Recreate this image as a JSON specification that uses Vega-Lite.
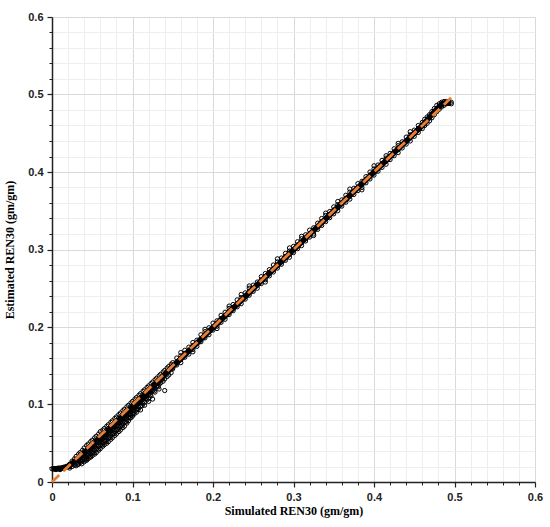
{
  "$schema": "https://vega.github.io/schema/vega-lite/v6.json",
  "width": 483,
  "height": 465,
  "autosize": {"type": "none"},
  "padding": {"left": 52, "top": 17, "right": 15, "bottom": 45},
  "background": "white",
  "config": {"view": {"stroke": null}},
  "datasets": {
    "pts": [
      {"sim":0.000,"est":0.017},{"sim":0.002,"est":0.017},{"sim":0.004,"est":0.017},{"sim":0.006,"est":0.0175},{"sim":0.008,"est":0.018},{"sim":0.010,"est":0.018},{"sim":0.012,"est":0.018},{"sim":0.014,"est":0.019},{"sim":0.016,"est":0.019},{"sim":0.018,"est":0.020},{"sim":0.020,"est":0.021},{"sim":0.005,"est":0.016},{"sim":0.010,"est":0.016},{"sim":0.015,"est":0.017},
      {"sim":0.022,"est":0.023},{"sim":0.022,"est":0.020},{"sim":0.022,"est":0.018},
      {"sim":0.025,"est":0.027},{"sim":0.025,"est":0.023},{"sim":0.025,"est":0.020},
      {"sim":0.028,"est":0.030},{"sim":0.028,"est":0.026},{"sim":0.028,"est":0.022},
      {"sim":0.030,"est":0.033},{"sim":0.030,"est":0.028},{"sim":0.030,"est":0.024},{"sim":0.030,"est":0.021},
      {"sim":0.033,"est":0.036},{"sim":0.033,"est":0.031},{"sim":0.033,"est":0.027},{"sim":0.033,"est":0.023},
      {"sim":0.035,"est":0.038},{"sim":0.035,"est":0.034},{"sim":0.035,"est":0.029},{"sim":0.035,"est":0.025},
      {"sim":0.038,"est":0.041},{"sim":0.038,"est":0.036},{"sim":0.038,"est":0.031},{"sim":0.038,"est":0.027},
      {"sim":0.040,"est":0.044},{"sim":0.040,"est":0.039},{"sim":0.040,"est":0.034},{"sim":0.040,"est":0.029},{"sim":0.040,"est":0.026},
      {"sim":0.043,"est":0.047},{"sim":0.043,"est":0.041},{"sim":0.043,"est":0.036},{"sim":0.043,"est":0.031},{"sim":0.043,"est":0.028},
      {"sim":0.045,"est":0.049},{"sim":0.045,"est":0.044},{"sim":0.045,"est":0.039},{"sim":0.045,"est":0.034},{"sim":0.045,"est":0.030},
      {"sim":0.048,"est":0.052},{"sim":0.048,"est":0.047},{"sim":0.048,"est":0.041},{"sim":0.048,"est":0.036},{"sim":0.048,"est":0.032},
      {"sim":0.050,"est":0.054},{"sim":0.050,"est":0.049},{"sim":0.050,"est":0.044},{"sim":0.050,"est":0.038},{"sim":0.050,"est":0.034},
      {"sim":0.053,"est":0.057},{"sim":0.053,"est":0.052},{"sim":0.053,"est":0.046},{"sim":0.053,"est":0.041},{"sim":0.053,"est":0.036},
      {"sim":0.055,"est":0.059},{"sim":0.055,"est":0.054},{"sim":0.055,"est":0.048},{"sim":0.055,"est":0.043},{"sim":0.055,"est":0.038},
      {"sim":0.058,"est":0.062},{"sim":0.058,"est":0.057},{"sim":0.058,"est":0.051},{"sim":0.058,"est":0.046},{"sim":0.058,"est":0.041},
      {"sim":0.060,"est":0.065},{"sim":0.060,"est":0.059},{"sim":0.060,"est":0.053},{"sim":0.060,"est":0.048},{"sim":0.060,"est":0.043},
      {"sim":0.063,"est":0.067},{"sim":0.063,"est":0.062},{"sim":0.063,"est":0.056},{"sim":0.063,"est":0.050},{"sim":0.063,"est":0.046},
      {"sim":0.065,"est":0.069},{"sim":0.065,"est":0.064},{"sim":0.065,"est":0.058},{"sim":0.065,"est":0.053},{"sim":0.065,"est":0.048},
      {"sim":0.068,"est":0.072},{"sim":0.068,"est":0.067},{"sim":0.068,"est":0.061},{"sim":0.068,"est":0.055},{"sim":0.068,"est":0.050},
      {"sim":0.070,"est":0.074},{"sim":0.070,"est":0.069},{"sim":0.070,"est":0.063},{"sim":0.070,"est":0.057},{"sim":0.070,"est":0.052},
      {"sim":0.073,"est":0.077},{"sim":0.073,"est":0.072},{"sim":0.073,"est":0.066},{"sim":0.073,"est":0.060},{"sim":0.073,"est":0.055},
      {"sim":0.075,"est":0.079},{"sim":0.075,"est":0.074},{"sim":0.075,"est":0.068},{"sim":0.075,"est":0.062},{"sim":0.075,"est":0.057},
      {"sim":0.078,"est":0.082},{"sim":0.078,"est":0.077},{"sim":0.078,"est":0.071},{"sim":0.078,"est":0.065},{"sim":0.078,"est":0.060},
      {"sim":0.080,"est":0.084},{"sim":0.080,"est":0.079},{"sim":0.080,"est":0.073},{"sim":0.080,"est":0.067},{"sim":0.080,"est":0.062},
      {"sim":0.083,"est":0.087},{"sim":0.083,"est":0.082},{"sim":0.083,"est":0.076},{"sim":0.083,"est":0.070},{"sim":0.083,"est":0.065},
      {"sim":0.085,"est":0.089},{"sim":0.085,"est":0.084},{"sim":0.085,"est":0.078},{"sim":0.085,"est":0.072},{"sim":0.085,"est":0.067},
      {"sim":0.088,"est":0.092},{"sim":0.088,"est":0.087},{"sim":0.088,"est":0.081},{"sim":0.088,"est":0.075},{"sim":0.088,"est":0.070},
      {"sim":0.090,"est":0.094},{"sim":0.090,"est":0.089},{"sim":0.090,"est":0.083},{"sim":0.090,"est":0.077},{"sim":0.090,"est":0.072},
      {"sim":0.093,"est":0.097},{"sim":0.093,"est":0.092},{"sim":0.093,"est":0.086},{"sim":0.093,"est":0.080},{"sim":0.093,"est":0.076},
      {"sim":0.095,"est":0.099},{"sim":0.095,"est":0.094},{"sim":0.095,"est":0.088},{"sim":0.095,"est":0.083},{"sim":0.095,"est":0.079},
      {"sim":0.098,"est":0.102},{"sim":0.098,"est":0.097},{"sim":0.098,"est":0.091},{"sim":0.098,"est":0.086},{"sim":0.098,"est":0.083},
      {"sim":0.100,"est":0.104},{"sim":0.100,"est":0.099},{"sim":0.100,"est":0.094},{"sim":0.100,"est":0.088},{"sim":0.100,"est":0.085},
      {"sim":0.103,"est":0.107},{"sim":0.103,"est":0.102},{"sim":0.103,"est":0.097},{"sim":0.103,"est":0.091},
      {"sim":0.105,"est":0.109},{"sim":0.105,"est":0.104},{"sim":0.105,"est":0.099},{"sim":0.105,"est":0.093},{"sim":0.105,"est":0.090},
      {"sim":0.108,"est":0.112},{"sim":0.108,"est":0.107},{"sim":0.108,"est":0.102},{"sim":0.108,"est":0.096},
      {"sim":0.110,"est":0.114},{"sim":0.110,"est":0.109},{"sim":0.110,"est":0.104},{"sim":0.110,"est":0.098},{"sim":0.110,"est":0.093},
      {"sim":0.113,"est":0.117},{"sim":0.113,"est":0.112},{"sim":0.113,"est":0.107},{"sim":0.113,"est":0.101},
      {"sim":0.115,"est":0.119},{"sim":0.115,"est":0.114},{"sim":0.115,"est":0.109},{"sim":0.115,"est":0.103},{"sim":0.115,"est":0.099},
      {"sim":0.118,"est":0.122},{"sim":0.118,"est":0.117},{"sim":0.118,"est":0.111},{"sim":0.118,"est":0.106},
      {"sim":0.120,"est":0.124},{"sim":0.120,"est":0.119},{"sim":0.120,"est":0.113},{"sim":0.120,"est":0.108},{"sim":0.120,"est":0.104},
      {"sim":0.123,"est":0.127},{"sim":0.123,"est":0.122},{"sim":0.123,"est":0.116},{"sim":0.123,"est":0.111},
      {"sim":0.125,"est":0.129},{"sim":0.125,"est":0.124},{"sim":0.125,"est":0.118},{"sim":0.125,"est":0.107},
      {"sim":0.128,"est":0.132},{"sim":0.128,"est":0.127},{"sim":0.128,"est":0.121},{"sim":0.128,"est":0.116},
      {"sim":0.130,"est":0.134},{"sim":0.130,"est":0.129},{"sim":0.130,"est":0.123},
      {"sim":0.133,"est":0.137},{"sim":0.133,"est":0.132},{"sim":0.133,"est":0.126},{"sim":0.133,"est":0.120},
      {"sim":0.135,"est":0.139},{"sim":0.135,"est":0.134},{"sim":0.135,"est":0.128},
      {"sim":0.138,"est":0.142},{"sim":0.138,"est":0.137},{"sim":0.138,"est":0.130},
      {"sim":0.140,"est":0.144},{"sim":0.140,"est":0.139},{"sim":0.140,"est":0.133},{"sim":0.140,"est":0.118},
      {"sim":0.143,"est":0.147},{"sim":0.143,"est":0.142},{"sim":0.143,"est":0.136},
      {"sim":0.145,"est":0.149},{"sim":0.145,"est":0.144},{"sim":0.145,"est":0.138},
      {"sim":0.148,"est":0.152},{"sim":0.148,"est":0.147},{"sim":0.148,"est":0.141},
      {"sim":0.032,"est":0.0275},{"sim":0.032,"est":0.0225},
      {"sim":0.037,"est":0.0325},{"sim":0.037,"est":0.0275},{"sim":0.037,"est":0.0235},
      {"sim":0.042,"est":0.0375},{"sim":0.042,"est":0.0325},{"sim":0.042,"est":0.0285},
      {"sim":0.047,"est":0.0425},{"sim":0.047,"est":0.0375},{"sim":0.047,"est":0.0325},
      {"sim":0.052,"est":0.0475},{"sim":0.052,"est":0.0425},{"sim":0.052,"est":0.0375},
      {"sim":0.057,"est":0.0525},{"sim":0.057,"est":0.0475},{"sim":0.057,"est":0.0425},
      {"sim":0.062,"est":0.0575},{"sim":0.062,"est":0.0525},{"sim":0.062,"est":0.0475},
      {"sim":0.067,"est":0.0625},{"sim":0.067,"est":0.0575},{"sim":0.067,"est":0.0525},
      {"sim":0.072,"est":0.0675},{"sim":0.072,"est":0.0625},{"sim":0.072,"est":0.0575},
      {"sim":0.077,"est":0.0725},{"sim":0.077,"est":0.0675},{"sim":0.077,"est":0.0625},
      {"sim":0.082,"est":0.0775},{"sim":0.082,"est":0.0725},{"sim":0.082,"est":0.0675},
      {"sim":0.087,"est":0.0825},{"sim":0.087,"est":0.0775},{"sim":0.087,"est":0.0725},
      {"sim":0.092,"est":0.0875},{"sim":0.092,"est":0.0825},{"sim":0.092,"est":0.0775},
      {"sim":0.097,"est":0.0925},{"sim":0.097,"est":0.0875},{"sim":0.097,"est":0.0825},
      {"sim":0.102,"est":0.0975},{"sim":0.102,"est":0.0925},{"sim":0.102,"est":0.0875},
      {"sim":0.107,"est":0.1025},{"sim":0.107,"est":0.0975},{"sim":0.107,"est":0.0935},
      {"sim":0.112,"est":0.1075},{"sim":0.112,"est":0.1025},{"sim":0.112,"est":0.0985},
      {"sim":0.117,"est":0.1125},{"sim":0.117,"est":0.1075},
      {"sim":0.122,"est":0.1175},{"sim":0.122,"est":0.1125},
      {"sim":0.127,"est":0.1225},{"sim":0.127,"est":0.1175},
      {"sim":0.132,"est":0.1275},{"sim":0.132,"est":0.123},
      {"sim":0.137,"est":0.1325},
      {"sim":0.150,"est":0.154},{"sim":0.150,"est":0.150},{"sim":0.150,"est":0.146},
      {"sim":0.155,"est":0.160},{"sim":0.155,"est":0.155},{"sim":0.155,"est":0.151},
      {"sim":0.160,"est":0.163},{"sim":0.160,"est":0.158},{"sim":0.160,"est":0.154},{"sim":0.160,"est":0.167},
      {"sim":0.165,"est":0.170},{"sim":0.165,"est":0.166},{"sim":0.165,"est":0.161},
      {"sim":0.170,"est":0.174},{"sim":0.170,"est":0.169},{"sim":0.170,"est":0.165},
      {"sim":0.175,"est":0.180},{"sim":0.175,"est":0.176},{"sim":0.175,"est":0.171},{"sim":0.175,"est":0.168},
      {"sim":0.180,"est":0.183},{"sim":0.180,"est":0.179},{"sim":0.180,"est":0.175},
      {"sim":0.185,"est":0.190},{"sim":0.185,"est":0.185},{"sim":0.185,"est":0.181},
      {"sim":0.190,"est":0.194},{"sim":0.190,"est":0.189},{"sim":0.190,"est":0.186},{"sim":0.190,"est":0.197},
      {"sim":0.195,"est":0.199},{"sim":0.195,"est":0.195},{"sim":0.195,"est":0.190},
      {"sim":0.200,"est":0.205},{"sim":0.200,"est":0.200},{"sim":0.200,"est":0.196},
      {"sim":0.205,"est":0.208},{"sim":0.205,"est":0.204},{"sim":0.205,"est":0.201},{"sim":0.205,"est":0.198},
      {"sim":0.210,"est":0.215},{"sim":0.210,"est":0.211},{"sim":0.210,"est":0.206},
      {"sim":0.215,"est":0.219},{"sim":0.215,"est":0.214},{"sim":0.215,"est":0.210},
      {"sim":0.220,"est":0.224},{"sim":0.220,"est":0.220},{"sim":0.220,"est":0.216},{"sim":0.220,"est":0.227},
      {"sim":0.225,"est":0.229},{"sim":0.225,"est":0.225},{"sim":0.225,"est":0.221},
      {"sim":0.230,"est":0.235},{"sim":0.230,"est":0.230},{"sim":0.230,"est":0.226},
      {"sim":0.235,"est":0.238},{"sim":0.235,"est":0.234},{"sim":0.235,"est":0.230},{"sim":0.235,"est":0.242},
      {"sim":0.240,"est":0.244},{"sim":0.240,"est":0.240},{"sim":0.240,"est":0.236},
      {"sim":0.245,"est":0.250},{"sim":0.245,"est":0.246},{"sim":0.245,"est":0.241},{"sim":0.245,"est":0.253},
      {"sim":0.250,"est":0.254},{"sim":0.250,"est":0.250},{"sim":0.250,"est":0.246},
      {"sim":0.255,"est":0.258},{"sim":0.255,"est":0.254},{"sim":0.255,"est":0.250},
      {"sim":0.260,"est":0.265},{"sim":0.260,"est":0.261},{"sim":0.260,"est":0.256},
      {"sim":0.265,"est":0.269},{"sim":0.265,"est":0.265},{"sim":0.265,"est":0.261},{"sim":0.265,"est":0.258},
      {"sim":0.270,"est":0.274},{"sim":0.270,"est":0.270},{"sim":0.270,"est":0.266},
      {"sim":0.275,"est":0.280},{"sim":0.275,"est":0.275},{"sim":0.275,"est":0.271},
      {"sim":0.280,"est":0.284},{"sim":0.280,"est":0.280},{"sim":0.280,"est":0.276},{"sim":0.280,"est":0.288},
      {"sim":0.285,"est":0.289},{"sim":0.285,"est":0.285},{"sim":0.285,"est":0.281},
      {"sim":0.290,"est":0.295},{"sim":0.290,"est":0.291},{"sim":0.290,"est":0.286},
      {"sim":0.295,"est":0.298},{"sim":0.295,"est":0.294},{"sim":0.295,"est":0.290},{"sim":0.295,"est":0.302},
      {"sim":0.300,"est":0.304},{"sim":0.300,"est":0.300},{"sim":0.300,"est":0.296},
      {"sim":0.305,"est":0.310},{"sim":0.305,"est":0.306},{"sim":0.305,"est":0.301},
      {"sim":0.310,"est":0.314},{"sim":0.310,"est":0.309},{"sim":0.310,"est":0.305},{"sim":0.310,"est":0.317},
      {"sim":0.315,"est":0.319},{"sim":0.315,"est":0.315},{"sim":0.315,"est":0.311},
      {"sim":0.320,"est":0.325},{"sim":0.320,"est":0.320},{"sim":0.320,"est":0.316},
      {"sim":0.325,"est":0.328},{"sim":0.325,"est":0.324},{"sim":0.325,"est":0.320},{"sim":0.325,"est":0.318},
      {"sim":0.330,"est":0.334},{"sim":0.330,"est":0.330},{"sim":0.330,"est":0.326},
      {"sim":0.335,"est":0.340},{"sim":0.335,"est":0.336},{"sim":0.335,"est":0.331},
      {"sim":0.340,"est":0.344},{"sim":0.340,"est":0.340},{"sim":0.340,"est":0.336},{"sim":0.340,"est":0.347},
      {"sim":0.345,"est":0.349},{"sim":0.345,"est":0.345},{"sim":0.345,"est":0.341},
      {"sim":0.350,"est":0.355},{"sim":0.350,"est":0.351},{"sim":0.350,"est":0.346},
      {"sim":0.355,"est":0.358},{"sim":0.355,"est":0.354},{"sim":0.355,"est":0.350},{"sim":0.355,"est":0.362},
      {"sim":0.360,"est":0.364},{"sim":0.360,"est":0.360},{"sim":0.360,"est":0.356},
      {"sim":0.365,"est":0.370},{"sim":0.365,"est":0.366},{"sim":0.365,"est":0.361},
      {"sim":0.370,"est":0.374},{"sim":0.370,"est":0.369},{"sim":0.370,"est":0.365},{"sim":0.370,"est":0.378},
      {"sim":0.375,"est":0.379},{"sim":0.375,"est":0.375},{"sim":0.375,"est":0.371},
      {"sim":0.380,"est":0.385},{"sim":0.380,"est":0.380},{"sim":0.380,"est":0.376},
      {"sim":0.385,"est":0.388},{"sim":0.385,"est":0.384},{"sim":0.385,"est":0.380},{"sim":0.385,"est":0.377},
      {"sim":0.390,"est":0.394},{"sim":0.390,"est":0.390},{"sim":0.390,"est":0.386},
      {"sim":0.395,"est":0.400},{"sim":0.395,"est":0.396},{"sim":0.395,"est":0.391},
      {"sim":0.400,"est":0.404},{"sim":0.400,"est":0.400},{"sim":0.400,"est":0.396},{"sim":0.400,"est":0.408},
      {"sim":0.405,"est":0.409},{"sim":0.405,"est":0.405},{"sim":0.405,"est":0.401},
      {"sim":0.410,"est":0.415},{"sim":0.410,"est":0.411},{"sim":0.410,"est":0.406},
      {"sim":0.415,"est":0.418},{"sim":0.415,"est":0.414},{"sim":0.415,"est":0.410},{"sim":0.415,"est":0.421},
      {"sim":0.420,"est":0.424},{"sim":0.420,"est":0.420},{"sim":0.420,"est":0.416},
      {"sim":0.425,"est":0.430},{"sim":0.425,"est":0.426},{"sim":0.425,"est":0.421},
      {"sim":0.430,"est":0.434},{"sim":0.430,"est":0.429},{"sim":0.430,"est":0.425},{"sim":0.430,"est":0.437},
      {"sim":0.435,"est":0.439},{"sim":0.435,"est":0.435},{"sim":0.435,"est":0.431},
      {"sim":0.440,"est":0.445},{"sim":0.440,"est":0.440},{"sim":0.440,"est":0.436},
      {"sim":0.445,"est":0.448},{"sim":0.445,"est":0.444},{"sim":0.445,"est":0.440},{"sim":0.445,"est":0.452},
      {"sim":0.450,"est":0.454},{"sim":0.450,"est":0.450},{"sim":0.450,"est":0.446},
      {"sim":0.455,"est":0.460},{"sim":0.455,"est":0.456},{"sim":0.455,"est":0.451},
      {"sim":0.460,"est":0.464},{"sim":0.460,"est":0.460},{"sim":0.460,"est":0.456},
      {"sim":0.463,"est":0.468},{"sim":0.463,"est":0.463},{"sim":0.463,"est":0.460},
      {"sim":0.466,"est":0.471},{"sim":0.466,"est":0.467},{"sim":0.466,"est":0.463},
      {"sim":0.469,"est":0.474},{"sim":0.469,"est":0.470},{"sim":0.469,"est":0.466},
      {"sim":0.472,"est":0.478},{"sim":0.472,"est":0.474},{"sim":0.472,"est":0.470},
      {"sim":0.475,"est":0.482},{"sim":0.475,"est":0.478},{"sim":0.475,"est":0.474},
      {"sim":0.478,"est":0.486},{"sim":0.478,"est":0.482},{"sim":0.478,"est":0.478},
      {"sim":0.481,"est":0.488},{"sim":0.481,"est":0.485},{"sim":0.481,"est":0.481},
      {"sim":0.484,"est":0.490},{"sim":0.484,"est":0.488},{"sim":0.484,"est":0.484},
      {"sim":0.487,"est":0.491},{"sim":0.487,"est":0.489},{"sim":0.487,"est":0.486},
      {"sim":0.490,"est":0.491},{"sim":0.490,"est":0.489},
      {"sim":0.493,"est":0.491},{"sim":0.493,"est":0.489},
      {"sim":0.496,"est":0.490},{"sim":0.496,"est":0.488}
    ],
    "core": [
      {"sim":0.000,"est":0.017},{"sim":0.010,"est":0.017},{"sim":0.020,"est":0.020},{"sim":0.030,"est":0.028},{"sim":0.060,"est":0.056},{"sim":0.100,"est":0.096},{"sim":0.150,"est":0.149},{"sim":0.460,"est":0.460},{"sim":0.475,"est":0.478},{"sim":0.485,"est":0.488},{"sim":0.495,"est":0.489}
    ],
    "ref": [{"sim": 0, "est": 0}, {"sim": 0.5, "est": 0.5}]
  },
  "layer": [
    {
      "data": {"name": "ref"},
      "mark": {"type": "line", "opacity": 0},
      "encoding": {
        "x": {"field": "sim", "type": "quantitative", "scale": {"domain": [0, 0.6], "nice": false, "zero": false},
          "axis": {"orient": "bottom", "values": [0.02,0.04,0.06,0.08,0.12,0.14,0.16,0.18,0.22,0.24,0.26,0.28,0.32,0.34,0.36,0.38,0.42,0.44,0.46,0.48,0.52,0.54,0.56,0.58],
            "labels": false, "domain": false, "title": null, "tickSize": 3, "tickColor": "#222", "tickWidth": 1,
            "grid": true, "gridColor": "#eeeeee", "gridWidth": 1, "maxExtent": 0, "minExtent": 0}},
        "y": {"field": "est", "type": "quantitative", "scale": {"domain": [0, 0.6], "nice": false, "zero": false},
          "axis": {"orient": "left", "values": [0.02,0.04,0.06,0.08,0.12,0.14,0.16,0.18,0.22,0.24,0.26,0.28,0.32,0.34,0.36,0.38,0.42,0.44,0.46,0.48,0.52,0.54,0.56,0.58],
            "labels": false, "domain": false, "title": null, "tickSize": 3, "tickColor": "#222", "tickWidth": 1,
            "grid": true, "gridColor": "#eeeeee", "gridWidth": 1, "maxExtent": 0, "minExtent": 0}}
      }
    },
    {
      "data": {"name": "core"},
      "mark": {"type": "line", "color": "#000000", "strokeWidth": 5.5},
      "encoding": {
        "x": {"field": "sim", "type": "quantitative",
          "axis": {"orient": "bottom", "values": [0, 0.1, 0.2, 0.3, 0.4, 0.5, 0.6], "labelFlush": false,
            "labelExpr": "datum.value == 0 ? '0' : format(datum.value, '.1f')",
            "labelFont": "Liberation Sans", "labelFontWeight": "bold", "labelFontSize": 11, "labelColor": "#222", "labelPadding": 4,
            "domainColor": "#222", "domainWidth": 1.5, "tickColor": "#222", "tickSize": 5, "tickWidth": 1.2,
            "grid": true, "gridColor": "#d9d9d9", "gridWidth": 1,
            "title": "Simulated REN30 (gm/gm)", "titleFont": "Liberation Serif", "titleFontWeight": "bold", "titleFontSize": 12, "titleColor": "#000", "titlePadding": 3}},
        "y": {"field": "est", "type": "quantitative",
          "axis": {"orient": "left", "values": [0, 0.1, 0.2, 0.3, 0.4, 0.5, 0.6], "labelFlush": false,
            "labelExpr": "datum.value == 0 ? '0' : format(datum.value, '.1f')",
            "labelFont": "Liberation Sans", "labelFontWeight": "bold", "labelFontSize": 11, "labelColor": "#222", "labelPadding": 4,
            "domainColor": "#222", "domainWidth": 1.5, "tickColor": "#222", "tickSize": 5, "tickWidth": 1.2,
            "grid": true, "gridColor": "#d9d9d9", "gridWidth": 1,
            "title": "Estimated REN30 (gm/gm)", "titleFont": "Liberation Serif", "titleFontWeight": "bold", "titleFontSize": 12, "titleColor": "#000", "titlePadding": 11}}
      }
    },
    {
      "data": {"name": "pts"},
      "mark": {"type": "point", "shape": "circle", "filled": false, "size": 18, "stroke": "#000000", "strokeWidth": 1, "opacity": 1},
      "encoding": {
        "x": {"field": "sim", "type": "quantitative", "axis": null},
        "y": {"field": "est", "type": "quantitative", "axis": null}
      }
    },
    {
      "data": {"name": "ref"},
      "mark": {"type": "line", "color": "#ED7D31", "strokeWidth": 2.8, "strokeDash": [10, 6]},
      "encoding": {
        "x": {"field": "sim", "type": "quantitative", "axis": null},
        "y": {"field": "est", "type": "quantitative", "axis": null}
      }
    }
  ],
  "resolve": {"axis": {"x": "independent", "y": "independent"}}
}
